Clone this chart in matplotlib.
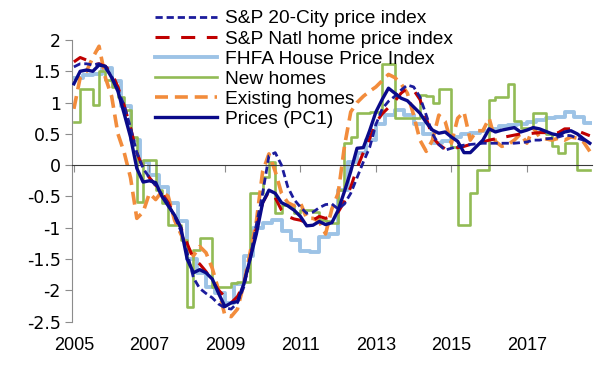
#!/usr/bin/env python3
"""House price indicators vs. the first principal component (PC1)."""

import matplotlib

matplotlib.use("Agg")
import matplotlib.pyplot as plt
import numpy as np
from matplotlib.ticker import FuncFormatter

# bi-monthly observations starting Jan 2005
START_YEAR = 2005
N_OBS = 83

SP20_CITY = [
    1.57, 1.62, 1.62, 1.60, 1.62, 1.55, 1.42, 1.20, 0.95, 0.60, 0.20, -0.05,
    -0.20, -0.33, -0.47, -0.62, -0.82, -1.05, -1.40, -1.80, -1.97, -2.05, -2.12, -2.22,
    -2.28, -2.30, -2.20, -1.95, -1.50, -0.95, -0.45, 0.15, 0.20, 0.00, -0.35, -0.55,
    -0.67, -0.77, -0.75, -0.68, -0.63, -0.62, -0.70, -0.62, -0.45, -0.20, 0.05, 0.28,
    0.65, 0.90, 1.02, 1.10, 1.20, 1.28, 1.25, 1.09, 0.80, 0.50, 0.33, 0.24,
    0.27, 0.30, 0.32, 0.33, 0.34, 0.35, 0.35, 0.35, 0.35, 0.35, 0.35, 0.36,
    0.37, 0.40, 0.40, 0.42, 0.43, 0.45, 0.48, 0.47, 0.43, 0.40, 0.35,
]
SP_NATL = [
    1.65, 1.72, 1.68, 1.60, 1.62, 1.58, 1.48, 1.25, 0.95, 0.60, 0.20, -0.05,
    -0.20, -0.32, -0.45, -0.60, -0.80, -1.00, -1.25, -1.50, -1.58, -1.70, -1.85, -2.00,
    -2.10, -2.20, -2.10, -1.90, -1.50, -1.00, -0.60, -0.42, -0.52, -0.72, -0.82, -0.86,
    -0.88, -0.92, -0.88, -0.82, -0.85, -0.82, -0.75, -0.58, -0.35, -0.05, 0.20, 0.42,
    0.68, 0.82, 0.92, 1.02, 1.15, 1.23, 1.20, 1.05, 0.75, 0.45, 0.33, 0.26,
    0.26, 0.28, 0.30, 0.33, 0.35, 0.37, 0.40, 0.42, 0.44, 0.46, 0.48, 0.50,
    0.50, 0.51, 0.52, 0.52, 0.50, 0.52, 0.58, 0.58, 0.55, 0.51, 0.47,
]
NEW_HOMES = [
    0.69, 1.22, 1.22, 0.96, 1.50, 1.36, 1.25, 1.09, 0.88, 0.45, -0.59, 0.08,
    0.08, -0.40, -0.60, -0.96, -0.96, -1.20, -2.27, -1.35, -1.17, -1.17, -1.94, -1.94,
    -1.94, -1.89, -1.86, -1.86, -0.45, -0.45, -0.19, 0.05, -0.77, -0.64, -0.64, -0.77,
    -0.72, -0.72, -0.75, -0.88, -0.90, -0.93, -0.40, 0.35, 0.45, 0.83, 0.83, 0.85,
    0.85, 1.62, 1.62, 0.75, 0.75, 0.75, 0.75, 1.12, 1.10, 1.00, 1.22, 1.22,
    0.29, -0.96, -0.96, -0.45, -0.08, -0.08, 1.04, 1.09, 1.09, 1.30, 0.70, 0.60,
    0.60, 0.83, 0.83, 0.50, 0.30, 0.19, 0.35, 0.35, -0.07, -0.07, -0.07,
]
EXISTING_HOMES = [
    0.90, 1.40, 1.50, 1.72, 1.90, 1.40, 1.10, 0.50, 0.20, -0.20, -0.85, -0.75,
    -0.45, -0.55, -0.42, -0.50, -0.88, -1.10, -1.30, -1.45, -1.30, -1.40, -1.65, -2.00,
    -2.40, -2.42, -2.30, -1.90, -1.40, -0.90, -0.10, 0.18, -0.10, -0.45, -0.60, -0.65,
    -0.60, -0.85, -0.85, -0.90, -1.10, -0.70, -0.45, 0.30, 0.85, 1.00, 1.10, 1.18,
    1.25, 1.35, 1.45, 1.40, 1.30, 1.15, 0.80, 0.40, 0.22, 0.40, 0.80, 0.70,
    0.35, 0.75, 0.85, 0.40, 0.55, 0.55, 0.75, 0.38, 0.30, 0.33, 0.40, 0.50,
    0.35, 0.60, 0.45, 0.42, 0.40, 0.43, 0.40, 0.45, 0.43, 0.37, 0.22,
]
PC1 = [
    1.30, 1.50, 1.52, 1.50, 1.60, 1.58, 1.40, 1.18, 0.82, 0.45, -0.05, -0.27,
    -0.25, -0.28, -0.50, -0.65, -0.80, -1.00, -1.50, -1.72, -1.67, -1.72, -1.82, -2.05,
    -2.26, -2.20, -2.18, -1.90, -1.50, -1.10, -0.60, -0.40, -0.45, -0.60, -0.65, -0.72,
    -0.82, -0.97, -0.96, -0.90, -0.95, -0.92, -0.72, -0.42, -0.10, 0.27, 0.28, 0.55,
    0.85, 1.05, 1.23, 1.15, 1.07, 1.03, 0.93, 0.83, 0.68, 0.56, 0.51, 0.53,
    0.45, 0.38, 0.20, 0.20, 0.30, 0.40, 0.58, 0.53, 0.56, 0.58, 0.60, 0.53,
    0.56, 0.60, 0.58, 0.54, 0.50, 0.48, 0.53, 0.55, 0.50, 0.42, 0.35,
]

# FHFA is quarterly
FHFA = [
    1.40, 1.44, 1.46, 1.55, 1.35, 0.95, 0.40, 0.05, -0.15, -0.35, -0.60, -0.90,
    -1.50, -1.73, -1.95, -2.05, -2.20, -1.90, -1.45, -1.00, -0.93, -0.88, -1.05, -1.20,
    -1.37, -1.38, -1.15, -1.10, -0.40, 0.05, 0.20, 0.40, 0.65, 0.80, 0.88, 0.80,
    0.65, 0.50, 0.35, 0.38, 0.45, 0.50, 0.52, 0.55, 0.58, 0.62, 0.64, 0.66,
    0.69, 0.72, 0.75, 0.77, 0.85, 0.77, 0.68, 0.68,
]

YEAR_TICKS = [2005, 2007, 2009, 2011, 2013, 2015, 2017]
Y_TICKS = [-2.5, -2, -1.5, -1, -0.5, 0, 0.5, 1, 1.5, 2]

LABELS = [
    "S&P 20-City price index",
    "S&P Natl home price index",
    "FHFA House Price Index",
    "New homes",
    "Existing homes",
    "Prices (PC1)",
]


def main() -> None:
    plt.rcParams["font.family"] = ["Liberation Sans", "DejaVu Sans"]

    months = START_YEAR + np.arange(N_OBS) / 6.0
    quarters = START_YEAR + np.arange(len(FHFA)) / 4.0

    fig = plt.figure(figsize=(6, 3.69), dpi=100)
    ax = fig.add_axes([0.12, 0.1285, 0.8664, 0.7631])

    ax.plot(months, SP20_CITY, color="#1c1c9c", lw=2.0, dashes=(2.6, 1.4), label=LABELS[0], zorder=4)
    ax.plot(months, SP_NATL, color="#c00000", lw=2.2, dashes=(4.6, 3.8), label=LABELS[1], zorder=3)
    ax.plot(quarters, FHFA, color="#9dc3e6", lw=2.8, drawstyle="steps-post", label=LABELS[2], zorder=1)
    ax.plot(months, NEW_HOMES, color="#92bb55", lw=1.9, drawstyle="steps-post", label=LABELS[3], zorder=2)
    ax.plot(months, EXISTING_HOMES, color="#f28c3c", lw=2.6, dashes=(3.6, 1.9), label=LABELS[4], zorder=2.5)
    ax.plot(months, PC1, color="#0a0a8a", lw=2.4, label=LABELS[5], zorder=5)

    ax.set_xlim(2004.95, 2018.72)
    ax.set_ylim(-2.5, 2)

    for side in ("top", "right"):
        ax.spines[side].set_visible(False)
    ax.spines["left"].set_color("#8c8c8c")
    ax.spines["bottom"].set_position(("data", 0))
    ax.spines["bottom"].set_color("#3a3a3a")

    ax.set_xticks(YEAR_TICKS)
    ax.tick_params(axis="x", length=5, color="#8c8c8c", labelbottom=False)
    ax.set_yticks(Y_TICKS)
    ax.yaxis.set_major_formatter(FuncFormatter(lambda v, _: f"{v:g}"))
    ax.tick_params(axis="y", length=5, color="#8c8c8c", pad=3)
    for label in ax.get_yticklabels():
        label.set_fontfamily("DejaVu Sans")
        label.set_fontsize(12.5)

    # year labels sit at the bottom while the axis line is at zero
    sec = ax.secondary_xaxis("bottom")
    sec.set_xticks(YEAR_TICKS)
    sec.spines["bottom"].set_visible(False)
    sec.tick_params(length=0, pad=11, labelsize=13)

    fig.legend(
        loc="upper left",
        bbox_to_anchor=(155 / 600, 1 - 10 / 369),
        frameon=False,
        fontsize=13.8,
        handlelength=3.25,
        handletextpad=0.4,
        labelspacing=0.14,
        borderpad=0,
        borderaxespad=0,
    )

    fig.savefig("out.png", dpi=100)
    plt.close(fig)


if __name__ == "__main__":
    main()
